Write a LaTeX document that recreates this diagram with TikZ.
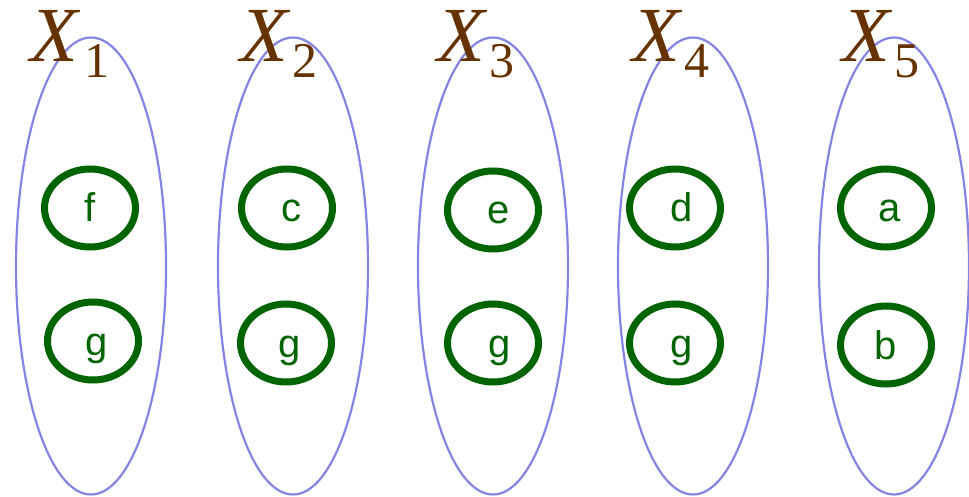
\documentclass[tikz,border=0pt]{standalone}
\usepackage{fontspec}
\setmainfont{Liberation Serif}
\newfontfamily\lblfont{Liberation Sans}
\usetikzlibrary{shapes.geometric}
\definecolor{setblue}{HTML}{8484E2}
\definecolor{elgreen}{HTML}{006400}
\definecolor{xbrown}{HTML}{663300}
\begin{document}
\begin{tikzpicture}[x=1pt,y=-1pt,
  bigset/.style={draw=setblue,line width=2.2pt,ellipse,minimum width=150pt,minimum height=457pt,inner sep=0pt},
  elem/.style={draw=elgreen,line width=7pt,ellipse,minimum width=91pt,minimum height=78pt,inner sep=0pt,text=elgreen,text height=28pt,text depth=0pt,font=\lblfont\fontsize{40}{42}\selectfont},
  xlab/.style={text=xbrown,inner sep=0pt,anchor=base west,font=\fontsize{78}{80}\selectfont\itshape},
  xsub/.style={text=xbrown,inner sep=0pt,anchor=base west,font=\fontsize{50}{52}\selectfont}]
\useasboundingbox (0,0) rectangle (969,497);
% big sets
\node[bigset] (S1) at (91,266) {};
\node[bigset] (S2) at (293,266) {};
\node[bigset] (S3) at (493,266) {};
\node[bigset] (S4) at (693,266) {};
\node[bigset] (S5) at (894,266) {};
% elements
\node[elem] (f1) at (90,208) {f};
\node[elem] (g1) at (93,341) {\hspace{8pt}g};
\node[elem] (c2) at (287,208) {\hspace{8pt}c};
\node[elem] (g2) at (286,343) {\hspace{8pt}g};
\node[elem] (e3) at (493,210) {\hspace{12pt}e};
\node[elem] (g3) at (493,343) {\hspace{14pt}g};
\node[elem] (d4) at (675,208) {\hspace{14pt}d};
\node[elem] (g4) at (675,343) {\hspace{14pt}g};
\node[elem] (a5) at (886,208) {\hspace{8pt}a};
\node[elem] (b5) at (886,345) {b};
% labels
\node[xlab] (X1) at (30,62) {X};
\node[xsub] (n1) at (84,78) {1};
\node[xlab] (X2) at (240,62) {X};
\node[xsub] (n2) at (292,78) {2};
\node[xlab] (X3) at (437,62) {X};
\node[xsub] (n3) at (489,78) {3};
\node[xlab] (X4) at (632,62) {X};
\node[xsub] (n4) at (684,78) {4};
\node[xlab] (X5) at (842,62) {X};
\node[xsub] (n5) at (894,78) {5};
\end{tikzpicture}
\end{document}
